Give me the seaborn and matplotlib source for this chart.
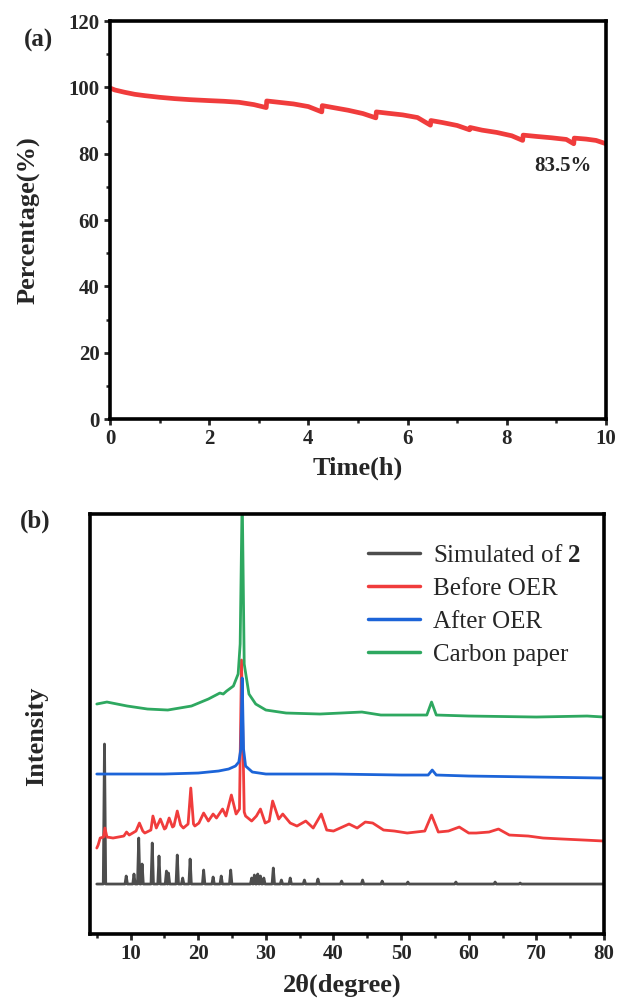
import numpy as np
import pandas as pd
import matplotlib
matplotlib.use('Agg')
import matplotlib.pyplot as plt
import seaborn as sns

# ---------------------------------------------------------------------------
# DATA
# ---------------------------------------------------------------------------

# (a) chronopotentiometric stability, percentage retained vs time
time_h = [0, 0.1, 0.3, 0.5, 0.7, 1.0, 1.3, 1.6, 2.0, 2.3, 2.6, 2.9, 3.15, 3.16,
          3.4, 3.7, 4.0, 4.27, 4.28, 4.5, 4.8, 5.1, 5.36, 5.37, 5.6, 5.9, 6.2,
          6.46, 6.47, 6.7, 7.0, 7.25, 7.26, 7.5, 7.8, 8.1, 8.32, 8.33, 8.6,
          8.9, 9.2, 9.35, 9.36, 9.6, 9.8, 10.0]
percentage = [99.8, 99.2, 98.5, 97.9, 97.5, 97.0, 96.6, 96.3, 96.0, 95.8, 95.5,
              94.8, 93.9, 95.9, 95.5, 95.0, 94.2, 92.6, 94.5, 93.9, 93.1, 92.1,
              90.8, 92.6, 92.2, 91.7, 90.9, 88.6, 90.0, 89.4, 88.5, 87.2, 87.9,
              87.1, 86.4, 85.4, 84.0, 85.6, 85.2, 84.8, 84.3, 83.0, 84.7, 84.4,
              84.0, 83.0]

# (b) XRD patterns (offset, arbitrary units)
sim_base = 50
sim_peak_pos = [6.14, 9.35, 10.5, 11.2, 11.7, 13.2, 14.2, 15.3, 15.6, 16.9,
                17.7, 18.8, 20.8, 22.2, 23.4, 24.8, 27.9, 28.3, 28.8, 29.2,
                29.7, 31.1, 32.3, 33.6, 35.7, 37.7, 41.2, 44.3, 47.2, 51.0,
                58.1, 63.9, 67.6]
sim_peak_top = [190, 58, 60, 96, 70, 91, 78, 63, 61, 79, 56, 75, 64, 57, 58,
                64, 56, 59, 60, 58, 56, 66, 54, 56, 54, 55, 53, 54, 53, 52, 52,
                52, 51]

before_x = [5.0, 5.2, 5.5, 6.0, 6.2, 6.5, 7.4, 9.0, 9.4, 9.8, 10.8, 11.3, 11.8,
            12.1, 13.0, 13.3, 13.8, 14.4, 15.0, 15.2, 15.7, 16.2, 16.4, 16.9,
            17.4, 17.8, 18.5, 18.9, 19.3, 19.5, 20.1, 20.8, 21.5, 22.2, 22.7,
            23.6, 24.1, 24.9, 25.6, 26.1, 26.4, 26.8, 27.0, 27.9, 28.6, 29.2,
            29.9, 30.5, 31.0, 31.9, 32.5, 33.6, 34.6, 35.9, 37.0, 38.2, 39.0,
            40.0, 42.3, 43.5, 44.7, 45.8, 47.4, 49.0, 50.9, 53.5, 54.5, 55.5,
            57.0, 58.6, 60.0, 61.1, 63.0, 64.4, 66.0, 68.8, 71.0, 73.9, 77.0,
            80.0]
before_y = [86, 89, 96, 97, 106, 97, 96, 98, 102, 99, 103, 111, 103, 101, 104,
            118, 106, 115, 105, 106, 116, 107, 108, 123, 109, 106, 110, 146,
            110, 108, 111, 121, 113, 120, 116, 125, 118, 139, 120, 125, 274,
            122, 118, 113, 118, 125, 111, 113, 133, 115, 120, 111, 108, 113,
            106, 120, 104, 103, 110, 106, 112, 111, 104, 103, 101, 103, 119,
            102, 103, 107, 101, 101, 102, 105, 99, 98, 96, 95, 94, 93]

after_x = [5.0, 10, 15, 20, 23, 24.5, 25.5, 26.0, 26.3, 26.5, 26.7, 27.0, 28,
           30, 40, 50, 54.0, 54.6, 55.2, 60, 70, 80]
after_y = [160, 160, 160, 161, 163, 165, 168, 172, 185, 256, 185, 168, 162,
           160, 160, 159, 159, 164, 159, 158, 157, 156]

carbon_x = [5.0, 6.5, 9.5, 12.5, 15.5, 19, 21.5, 23.2, 23.7, 24.2, 25.2, 25.9,
            26.2, 26.5, 26.8, 27.5, 28.5, 30, 33, 38, 44.2, 47, 53.8, 54.5,
            55.2, 60, 70, 77.5, 80]
carbon_y = [230, 232, 228, 225, 224, 228, 235, 241, 240, 243, 248, 260, 290,
            440, 270, 240, 230, 224, 221, 220, 222, 219, 219, 232, 219, 218,
            217, 218, 217]

samples = ['Simulated of $\\mathbf{2}$', 'Before OER', 'After OER', 'Carbon paper']
colors = ['#4D4D4D', '#F03C3C', '#1C64D8', '#2EA860']

# simulated pattern drawn as narrow sticks on a flat baseline
sim_x, sim_y = [5.0], [sim_base]
for p, t in zip(sim_peak_pos, sim_peak_top):
    sim_x += [p - 0.18, p, p + 0.18]
    sim_y += [sim_base, t, sim_base]
sim_x.append(80.0)
sim_y.append(sim_base)

frames = []
for name, xs, ys in zip(samples, [sim_x, before_x, after_x, carbon_x],
                        [sim_y, before_y, after_y, carbon_y]):
    frames.append(pd.DataFrame({'two_theta': xs, 'intensity': ys, 'sample': name}))
xrd = pd.concat(frames, ignore_index=True)

# ---------------------------------------------------------------------------
# PLOT
# ---------------------------------------------------------------------------

sns.set_style('ticks')
plt.rcParams['font.family'] = ['Liberation Serif', 'DejaVu Serif']
plt.rcParams['mathtext.fontset'] = 'custom'
plt.rcParams['mathtext.rm'] = 'Liberation Serif'
plt.rcParams['mathtext.bf'] = 'Liberation Serif:bold'

fig = plt.figure(figsize=(6.2, 10.01), dpi=100)
ax1 = fig.add_axes([0.1774, 0.5814, 0.800, 0.3976])
ax2 = fig.add_axes([0.1452, 0.0669, 0.8290, 0.4196])

# --- (a)
sns.lineplot(x=time_h, y=percentage, ax=ax1, color='#F03C3C', lw=3.4,
             estimator=None, sort=False)
ax1.set_xlim(0, 10)
ax1.set_ylim(0, 120)
ax1.set_xticks(range(0, 11, 2))
ax1.set_xticks(range(1, 10, 2), minor=True)
ax1.set_yticks(range(0, 121, 20))
ax1.set_yticks(range(10, 120, 20), minor=True)
ax1.set_xlabel('Time(h)', fontsize=19, fontweight='bold')
ax1.set_ylabel('Percentage(%)', fontsize=19, fontweight='bold')
ax1.xaxis.set_label_coords(0.5, -0.095)
ax1.yaxis.set_label_coords(-0.14, 0.5)
ax1.text(9.14, 76.4, '83.5%', fontsize=15, fontweight='bold',
         ha='center', va='center')
fig.text(0.062, 0.960, '(a)', fontsize=18, fontweight='bold',
         ha='center', va='center')

# --- (b)
sns.lineplot(data=xrd, x='two_theta', y='intensity', hue='sample',
             hue_order=samples, palette=colors, lw=2.0, ax=ax2,
             estimator=None, sort=False)
ax2.set_xlim(4, 80)
ax2.set_ylim(0, 420)
ax2.set_xticks(range(10, 81, 10))
ax2.set_xticks(range(5, 80, 10), minor=True)
ax2.set_yticks([])
ax2.set_xlabel('2θ(degree)', fontsize=19, fontweight='bold')
ax2.set_ylabel('Intensity', fontsize=19, fontweight='bold')
ax2.xaxis.set_label_coords(0.49, -0.093)
ax2.yaxis.set_label_coords(-0.082, 0.47)
leg = ax2.legend(loc='upper left', bbox_to_anchor=(0.54, 0.928),
                 frameon=False, fontsize=18, handlelength=2.1,
                 handletextpad=0.5, labelspacing=0.42, borderaxespad=0,
                 borderpad=0)
for line in leg.get_lines():
    line.set_linewidth(2.5)
fig.text(0.057, 0.479, '(b)', fontsize=18, fontweight='bold',
         ha='center', va='center')

for ax in (ax1, ax2):
    for s in ax.spines.values():
        s.set_linewidth(2.6)
        s.set_color('black')
    ax.tick_params(which='major', direction='out', length=4.5, width=2.0,
                   labelsize=15, pad=3)
    ax.tick_params(which='minor', direction='out', length=2.8, width=1.8)
    for lab in ax.get_xticklabels() + ax.get_yticklabels():
        lab.set_fontweight('bold')

plt.savefig('out.png', dpi=100)
